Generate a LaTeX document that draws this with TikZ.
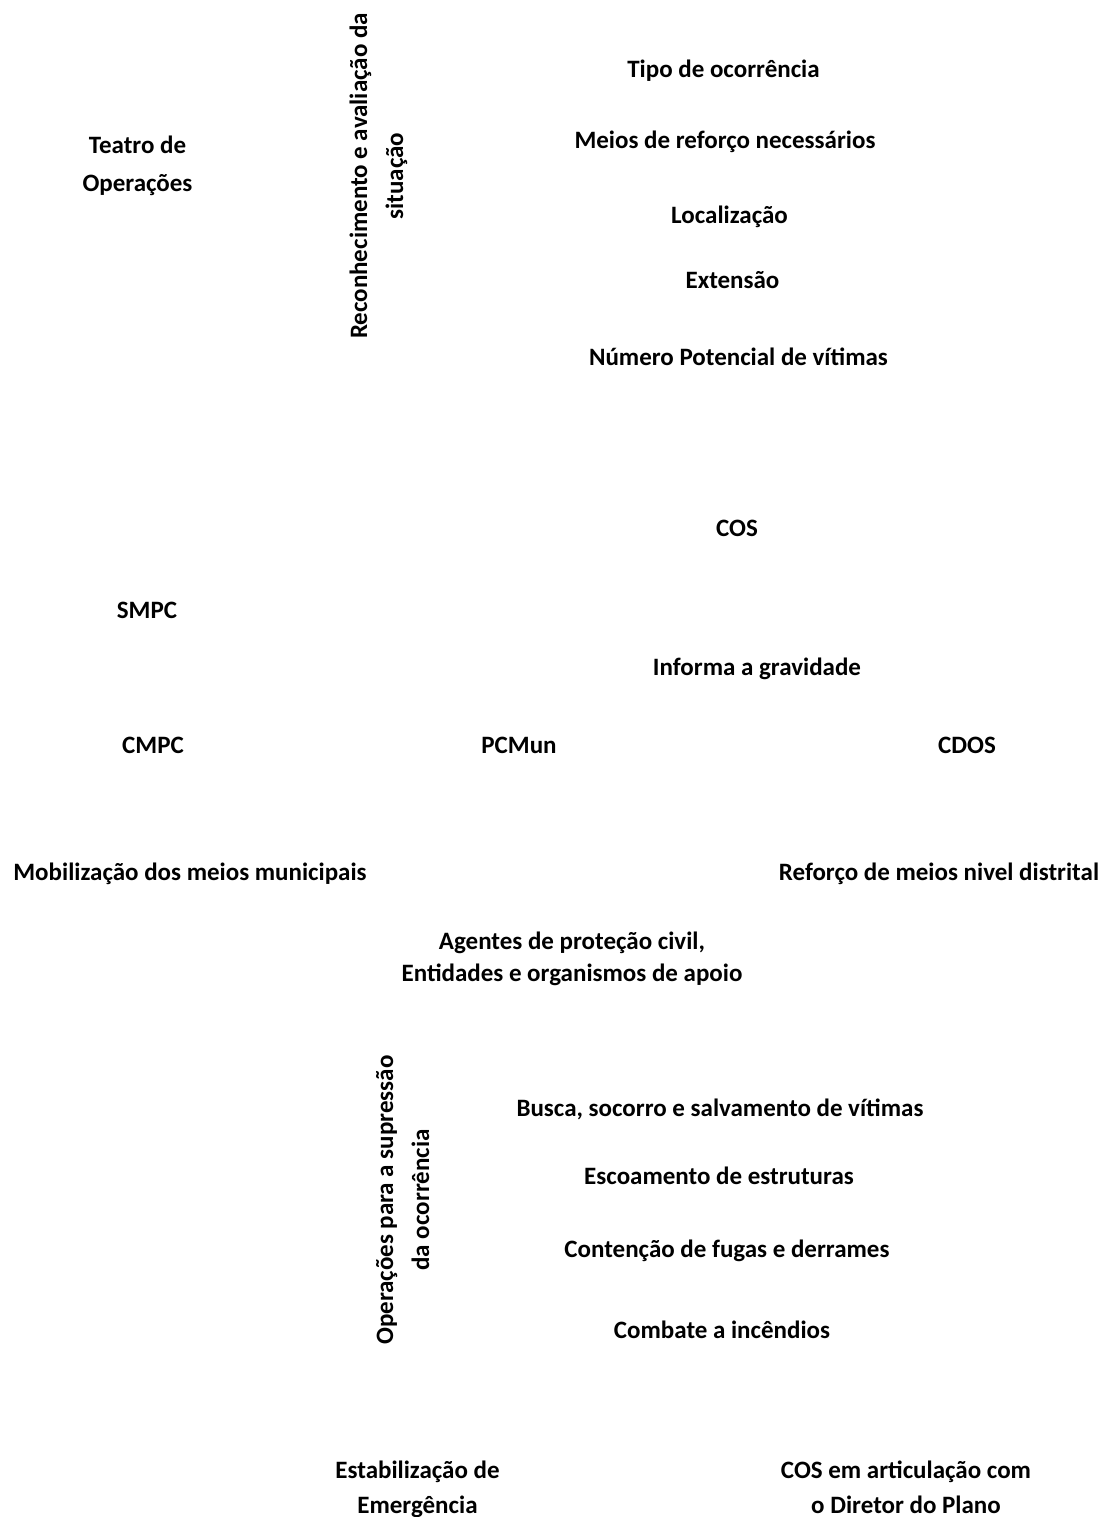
\documentclass[tikz,border=0pt]{standalone}
\usepackage{fontspec}
\setmainfont{Carlito}
\begin{document}
\begin{tikzpicture}[x=1pt,y=-1pt,
  lbl/.style={font=\fontsize{25}{36}\selectfont\bfseries, inner sep=0pt, anchor=base, align=center},
  sk38/.style={font=\fontsize{25}{38}\selectfont\bfseries},
  sk32/.style={font=\fontsize{25}{32}\selectfont\bfseries},
  sk35/.style={font=\fontsize{25}{35}\selectfont\bfseries}]
\useasboundingbox (0,0) rectangle (1109,1517);
\node[lbl,sk38] (teatro) at (137.5,192) {Teatro de\\Operações};
\node[lbl,rotate=90] (recon) at (403,176) {Reconhecimento e avaliação da\\situação};
\node[lbl] (tipo) at (723.5,78) {Tipo de ocorrência};
\node[lbl] (meios) at (725,149) {Meios de reforço necessários};
\node[lbl] (local) at (729.5,223) {Localização};
\node[lbl] (ext) at (732.5,288) {Extensão};
\node[lbl] (num) at (738.5,365) {Número Potencial de vítimas};
\node[lbl] (cos) at (737,536) {COS};
\node[lbl] (smpc) at (147,618) {SMPC};
\node[lbl] (informa) at (757,675) {Informa a gravidade};
\node[lbl] (cmpc) at (153,753) {CMPC};
\node[lbl] (pcmun) at (519,753) {PCMun};
\node[lbl] (cdos) at (967,753) {CDOS};
\node[lbl] (mobil) at (190,880) {Mobilização dos meios municipais};
\node[lbl] (reforco) at (939,880) {Reforço de meios nivel distrital};
\node[lbl,sk32] (agentes) at (572,981) {Agentes de proteção civil,\\Entidades e organismos de apoio};
\node[lbl,rotate=90] (opera) at (429,1200) {Operações para a supressão\\da ocorrência};
\node[lbl] (busca) at (720,1116) {Busca, socorro e salvamento de vítimas};
\node[lbl] (escoa) at (719,1184) {Escoamento de estruturas};
\node[lbl] (conten) at (727,1257) {Contenção de fugas e derrames};
\node[lbl] (combate) at (722,1338) {Combate a incêndios};
\node[lbl,sk35] (estab) at (417.5,1513) {Estabilização de\\Emergência};
\node[lbl,sk35] (cosart) at (906,1513) {COS em articulação com\\o Diretor do Plano};
\end{tikzpicture}
\end{document}
